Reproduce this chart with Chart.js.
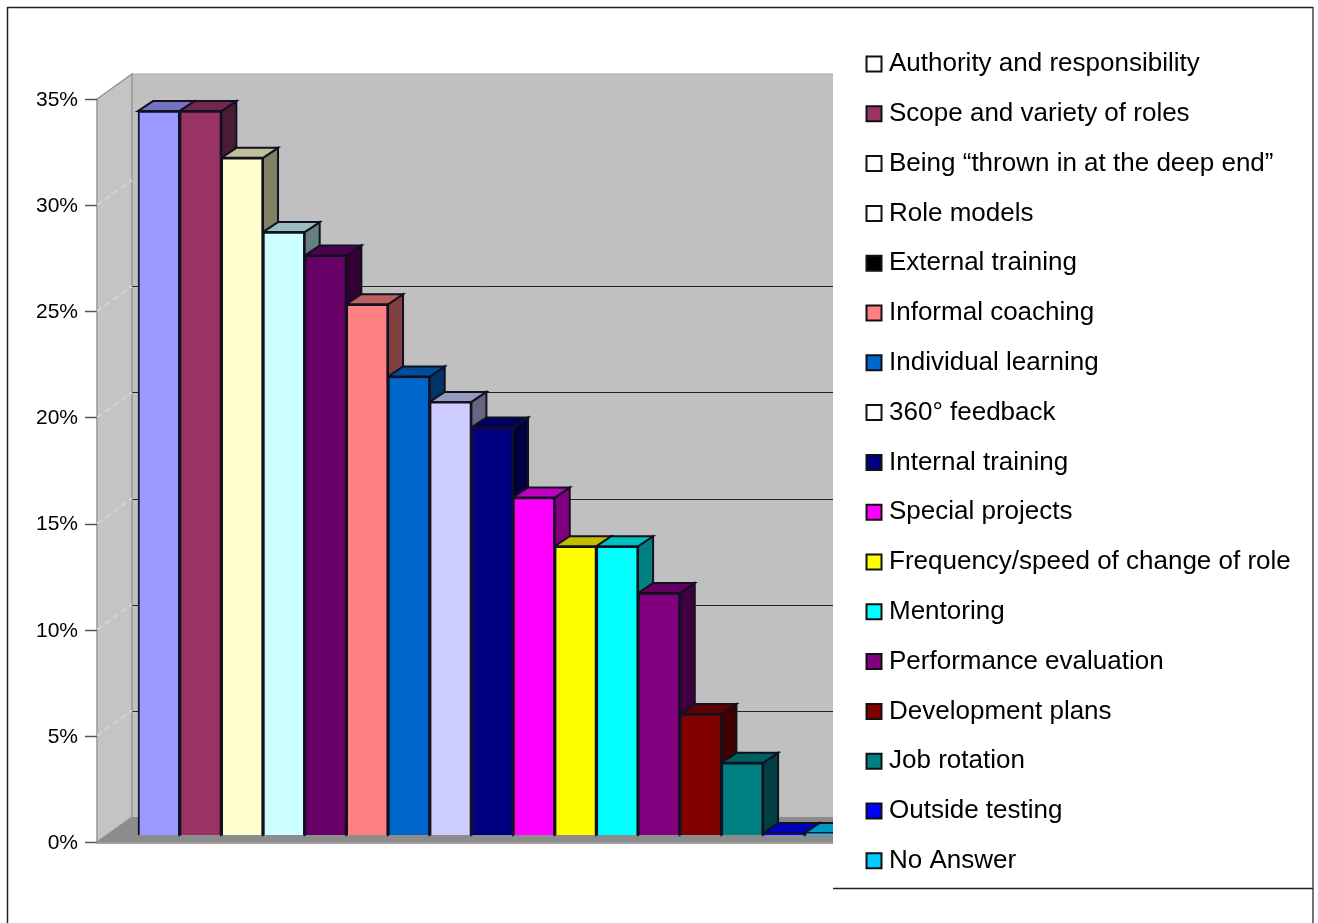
<!DOCTYPE html>
<html>
<head>
<meta charset="utf-8">
<style>
  html, body { margin: 0; padding: 0; background: #fff; overflow: hidden; }
  canvas { display: block; }
</style>
<script src="https://cdn.jsdelivr.net/npm/chart.js@4/dist/chart.umd.min.js"></script>
</head>
<body>
<canvas id="chart" width="1318" height="923"></canvas>
<script>
const categories = [
  "Authority and responsibility", "Scope and variety of roles",
  "Being \u201cthrown in at the deep end\u201d", "Role models", "External training",
  "Informal coaching", "Individual learning", "360\u00b0 feedback", "Internal training",
  "Special projects", "Frequency/speed of change of role", "Mentoring",
  "Performance evaluation", "Development plans", "Job rotation", "Outside testing", "No Answer",
];
const values = [34.1, 34.1, 31.9, 28.4, 27.3, 25, 21.6, 20.4, 19.2, 15.9, 13.6, 13.6, 11.4, 5.7, 3.4, 0.1, 0.1];
const barColors = [
  "#9999ff", "#993366", "#ffffcc", "#ccffff", "#660066", "#ff8080", "#0066cc", "#ccccff", "#000080",
  "#ff00ff", "#ffff00", "#00ffff", "#800080", "#800000", "#008080", "#0000ff", "#00ccff",
];
const swatchColors = [
  "#ffffff", "#993366", "#ffffff", "#ffffff", "#000000", "#ff8080", "#0066cc", "#ffffff", "#000080",
  "#ff00ff", "#ffff00", "#00ffff", "#800080", "#800000", "#008080", "#0000ff", "#00ccff",
];
const backWallLines = [5, 10, 15, 20, 25];
const sideWallLines = [5, 10, 15, 20, 25, 30];

const shade = (hex, f) => {
  const n = parseInt(hex.slice(1), 16);
  const c = [n >> 16, (n >> 8) & 255, n & 255].map((v) => Math.round(v * f));
  return `rgb(${c[0]}, ${c[1]}, ${c[2]})`;
};

const poly = (ctx, pts, fill, stroke, width) => {
  ctx.beginPath();
  pts.forEach((p, i) => (i ? ctx.lineTo(p[0], p[1]) : ctx.moveTo(p[0], p[1])));
  ctx.closePath();
  if (fill) {
    ctx.fillStyle = fill;
    ctx.fill();
  }
  if (stroke) {
    ctx.strokeStyle = stroke;
    ctx.lineWidth = width || 1;
    ctx.stroke();
  }
};

const line = (ctx, x1, y1, x2, y2, color, width) => {
  ctx.beginPath();
  ctx.moveTo(x1, y1);
  ctx.lineTo(x2, y2);
  ctx.strokeStyle = color;
  ctx.lineWidth = width || 1;
  ctx.stroke();
};

const WALL_X = 97;
const WALL_DX = 35;
const WALL_DY = 25;
const CLIP_X = 833;
const BAR_SHIFT_Y = 7;
const DEPTH_X = 15;
const DEPTH_Y = 10;

// fake 3D box: walls + floor behind, side and top faces of the bars
const boxPlugin = {
  id: "box3d",
  afterLayout(chart) {
    // legend sits at a fixed place, it is clipped to its own box when drawn
    const { legend } = chart;
    legend.left = 848.2;
    legend.right = chart.width;
    legend.width = legend.right - legend.left;
    legend.top = 27.2;
    legend.bottom = chart.height;
    legend.height = legend.bottom - legend.top;
  },
  beforeDatasetsDraw(chart) {
    const { ctx } = chart;
    const y = chart.scales.y;
    const top = y.getPixelForValue(35);
    const bottom = y.getPixelForValue(0);

    ctx.save();
    poly(ctx, [[WALL_X + WALL_DX, top - WALL_DY], [CLIP_X, top - WALL_DY], [CLIP_X, bottom - WALL_DY], [WALL_X + WALL_DX, bottom - WALL_DY]], "#c0c0c0");
    poly(ctx, [[WALL_X, top], [WALL_X + WALL_DX, top - WALL_DY], [WALL_X + WALL_DX, bottom - WALL_DY], [WALL_X, bottom]], "#c4c4c4", "#969696", 1.5);
    poly(ctx, [[WALL_X, bottom], [WALL_X + WALL_DX, bottom - WALL_DY], [CLIP_X, bottom - WALL_DY], [CLIP_X, bottom]], "#8c8c8c");
    line(ctx, WALL_X + WALL_DX, top - WALL_DY, CLIP_X, top - WALL_DY, "#a8a8a8", 1);
    line(ctx, WALL_X, bottom + 1, CLIP_X, bottom + 1, "#a0a0a0", 2);

    backWallLines.forEach((v) => {
      const py = Math.round(y.getPixelForValue(v)) - WALL_DY + 0.5;
      line(ctx, WALL_X + WALL_DX, py, CLIP_X, py, "#222222", 1);
    });
    ctx.setLineDash([6, 4]);
    sideWallLines.forEach((v) => {
      const py = y.getPixelForValue(v);
      line(ctx, WALL_X, py, WALL_X + WALL_DX, py - WALL_DY, "#d4d4d4", 2);
    });
    ctx.setLineDash([]);

    y.ticks.forEach((t) => {
      const py = Math.round(y.getPixelForValue(t.value)) + 0.5;
      line(ctx, 85, py, WALL_X, py, "#555555", 1.5);
    });
    ctx.restore();

    ctx.save();
    ctx.beginPath();
    ctx.rect(0, 0, CLIP_X, chart.height);
    ctx.clip();
    ctx.translate(0, -BAR_SHIFT_Y);

    chart.getDatasetMeta(0).data.forEach((bar, i) => {
      const c = barColors[i];
      const left = bar.x - bar.width / 2;
      const right = bar.x + bar.width / 2;
      poly(ctx, [[right, bar.y], [right + DEPTH_X, bar.y - DEPTH_Y], [right + DEPTH_X, bar.base - DEPTH_Y], [right, bar.base]], shade(c, 0.5), "#111122", 2);
      poly(ctx, [[left, bar.y], [left + DEPTH_X, bar.y - DEPTH_Y], [right + DEPTH_X, bar.y - DEPTH_Y], [right, bar.y]], shade(c, 0.75), "#111122", 2);
    });
  },
  afterDatasetsDraw(chart) {
    chart.ctx.restore();
  },
  afterDraw(chart) {
    const { ctx } = chart;
    ctx.save();
    line(ctx, 7.5, 7, 7.5, 923, "#222222", 1.5);
    line(ctx, 1313, 7, 1313, 923, "#444444", 1.5);
    line(ctx, 7, 7.5, 1313, 7.5, "#222222", 1.5);
    line(ctx, CLIP_X, 888.5, 1313, 888.5, "#222222", 1.5);
    ctx.restore();
  },
};

new Chart(document.querySelector("#chart"), {
  type: "bar",
  data: {
    labels: categories,
    datasets: [
      {
        data: values,
        backgroundColor: barColors,
        borderColor: "#111122",
        borderWidth: 2,
        barPercentage: 1,
        categoryPercentage: 1,
        clip: false,
      },
    ],
  },
  options: {
    responsive: false,
    animation: false,
    devicePixelRatio: 1,
    layout: { padding: { right: 189.4 } },
    scales: {
      x: {
        grid: { display: false },
        border: { display: false },
        ticks: { display: false },
        afterFit: (s) => {
          s.height = 81;
        },
      },
      y: {
        min: 0,
        max: 35,
        grid: { display: false, drawTicks: false },
        border: { display: false },
        ticks: {
          stepSize: 5,
          padding: 60,
          labelOffset: 1,
          color: "#000",
          font: { family: "Liberation Sans", size: 21 },
          callback: (v) => `${v}%`,
        },
        afterFit: (s) => {
          s.width = 138;
        },
      },
    },
    plugins: {
      tooltip: { enabled: false },
      title: {
        display: true,
        text: "",
        padding: { top: 99, bottom: 0 },
        font: { size: 1, lineHeight: 0 },
      },
      legend: {
        position: "right",
        align: "start",
        labels: {
          usePointStyle: true,
          boxWidth: 4,
          boxHeight: 15,
          padding: 23.8,
          color: "#000",
          font: { family: "Liberation Sans", size: 26, lineHeight: 1 },
          generateLabels: () =>
            categories.map((text, i) => ({
              text,
              fillStyle: swatchColors[i],
              strokeStyle: "#111111",
              lineWidth: 2,
              pointStyle: "rect",
              index: i,
            })),
        },
      },
    },
  },
  plugins: [boxPlugin],
});
</script>
</body>
</html>
